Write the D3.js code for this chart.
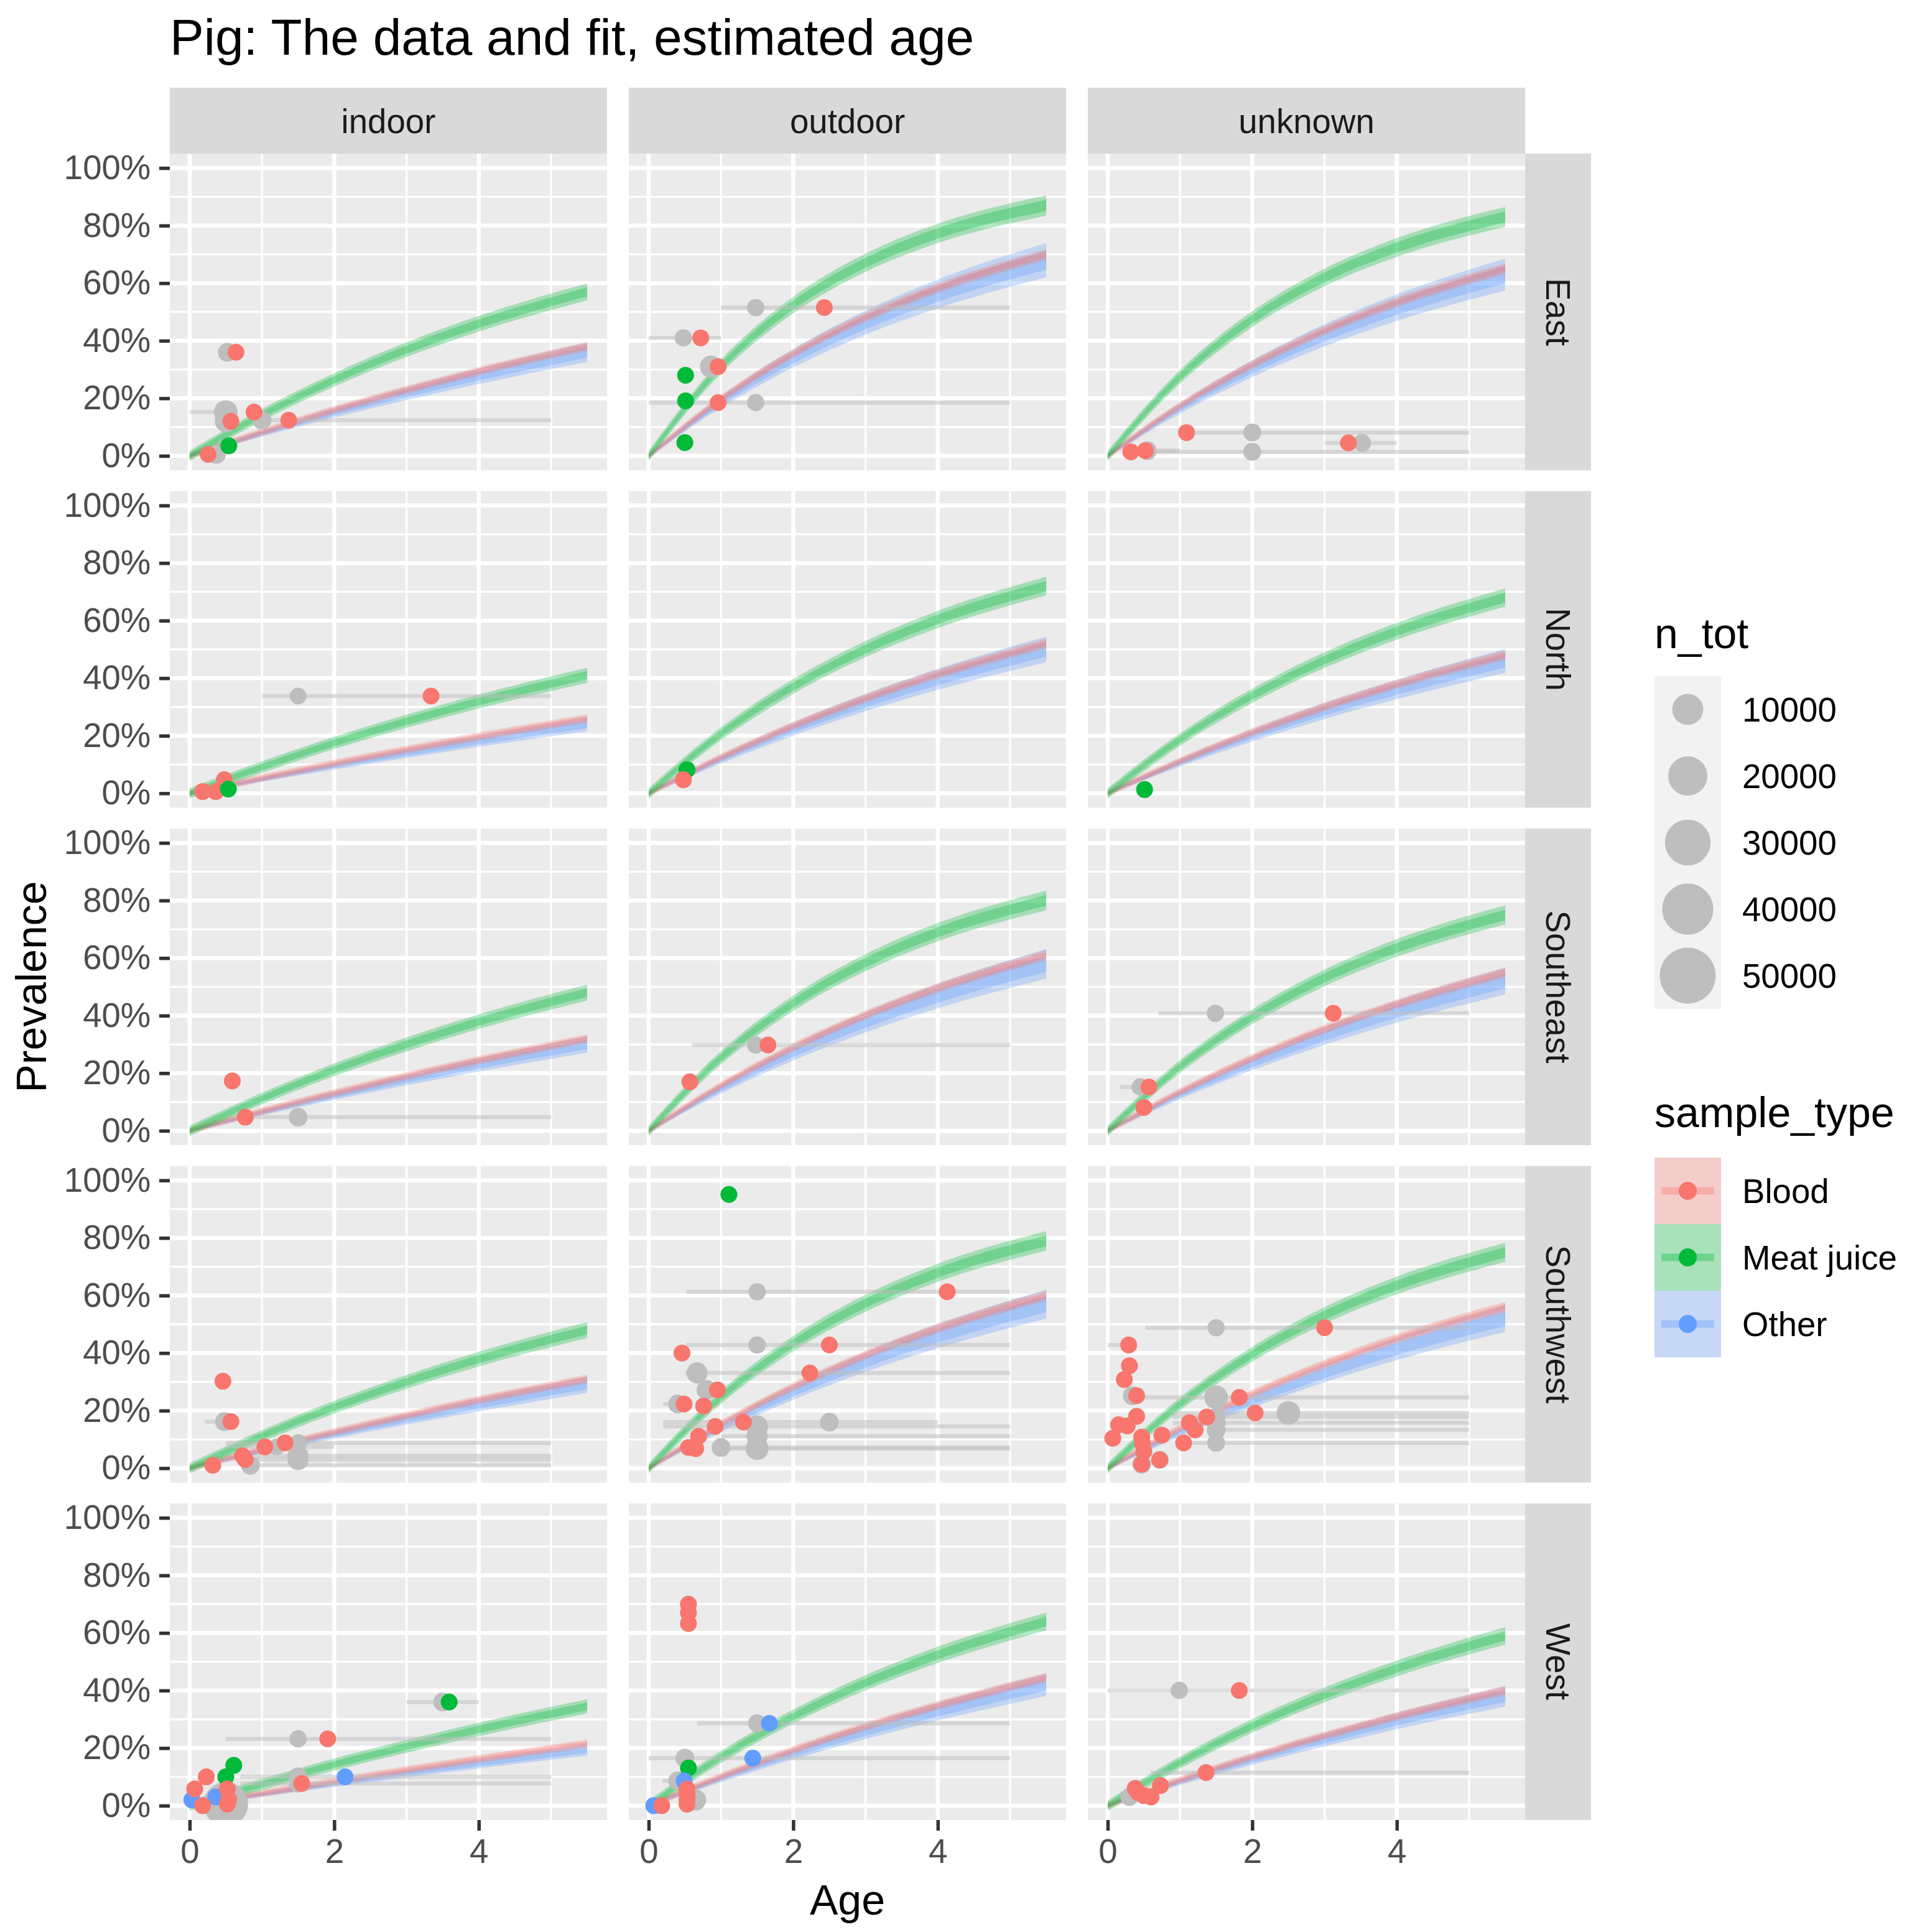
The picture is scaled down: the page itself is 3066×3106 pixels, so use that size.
<!DOCTYPE html>
<html>
<head>
<meta charset="utf-8">
<script src="https://cdn.jsdelivr.net/npm/d3@7"></script>
<style>
  body { margin: 0; background: #fff; }
  text { font-family: "Liberation Sans", Arial, Helvetica, sans-serif; }
</style>
</head>
<body>
<svg id="chart"></svg>
<script>
// ---- data ----
const regions = ["East", "North", "Southeast", "Southwest", "West"];
const housing = ["indoor", "outdoor", "unknown"];
const sampleTypes = ["Blood", "Meat juice", "Other"];
const yTicks = [0, 0.2, 0.4, 0.6, 0.8, 1];
const xTicks = [0, 2, 4];
const sizeBreaks = [10000, 20000, 30000, 40000, 50000];

// fitted prevalence at these ages, one row per panel (regions x housing, row order)
const fitAges = [0, 1, 2, 3, 4, 5.5];
const fitBlood = [
  [0, .083, .160, .229, .294, .38],
  [0, .197, .355, .482, .583, .70],
  [0, .174, .317, .436, .534, .65],
  [0, .053, .104, .152, .197, .26],
  [0, .125, .234, .330, .414, .52],
  [0, .112, .212, .300, .379, .48],
  [0, .068, .131, .190, .245, .32],
  [0, .157, .290, .402, .496, .61],
  [0, .135, .252, .353, .440, .55],
  [0, .065, .126, .183, .237, .31],
  [0, .153, .283, .393, .486, .60],
  [0, .139, .258, .361, .450, .56],
  [0, .043, .084, .124, .162, .215],
  [0, .101, .193, .275, .348, .445],
  [0, .089, .170, .243, .310, .40]
];
const fitMeatJuice = [
  [0, .142, .264, .369, .459, .57],
  [0, .310, .524, .671, .773, .87],
  [0, .275, .475, .620, .724, .83],
  [0, .091, .175, .250, .319, .41],
  [0, .207, .371, .501, .604, .72],
  [0, .187, .339, .463, .563, .68],
  [0, .112, .212, .300, .379, .48],
  [0, .254, .443, .584, .690, .80],
  [0, .223, .396, .531, .635, .75],
  [0, .112, .212, .300, .379, .48],
  [0, .247, .433, .573, .679, .79],
  [0, .223, .396, .531, .635, .75],
  [0, .074, .143, .206, .265, .345],
  [0, .169, .310, .427, .524, .64],
  [0, .150, .277, .385, .477, .59]
];
const fitOther = [
  [0, .078, .150, .216, .277, .36],
  [0, .187, .339, .463, .563, .68],
  [0, .165, .303, .419, .515, .63],
  [0, .049, .095, .139, .181, .24],
  [0, .118, .223, .315, .396, .50],
  [0, .106, .201, .286, .361, .46],
  [0, .063, .122, .177, .229, .30],
  [0, .146, .271, .377, .468, .58],
  [0, .125, .234, .330, .414, .52],
  [0, .060, .117, .170, .220, .29],
  [0, .142, .264, .369, .459, .57],
  [0, .125, .234, .330, .414, .52],
  [0, .039, .076, .112, .146, .195],
  [0, .094, .180, .257, .327, .42],
  [0, .083, .160, .229, .294, .38]
];
// half width of the outer fit band: base + slope * prevalence
const bandBase = [0.012, 0.018, 0.005];
const bandSlope = [0.010, 0.020, 0.080];

// observations: region, housing, sample type, age (grey), age min, age max, estimated age, prevalence, n_tot
const observations = [
  ["East","indoor","Blood", .52,.52,.52, .64,.36, 1500],
  ["East","indoor","Blood", .50,0,.5, .89,.152, 4000],
  ["East","indoor","Blood", .50,.5,.5, .57,.12, 3000],
  ["East","indoor","Blood", 1.0,1.0,5.0, 1.37,.124, 1500],
  ["East","indoor","Meat juice", .54,.54,.54, .54,.035, 1000],
  ["East","indoor","Blood", .37,.37,.37, .255,.005, 1500],

  ["East","outdoor","Blood", 1.48,1,5, 2.43,.515, 1000],
  ["East","outdoor","Blood", .48,0,1, .72,.41, 1000],
  ["East","outdoor","Blood", .86,.86,.86, .96,.31, 3000],
  ["East","outdoor","Meat juice", .51,.51,.51, .51,.28, 800],
  ["East","outdoor","Meat juice", .51,.51,.51, .51,.191, 800],
  ["East","outdoor","Blood", 1.48,0,5, .96,.185, 1000],
  ["East","outdoor","Meat juice", .50,.50,.50, .50,.046, 800],

  ["East","unknown","Blood", .55,.5,1, .52,.018, 1500],
  ["East","unknown","Blood", 2.0,1,5, 1.09,.081, 1200],
  ["East","unknown","Blood", 2.0,.5,5, .32,.014, 1200],
  ["East","unknown","Blood", 3.52,3,4, 3.33,.045, 1200],

  ["North","indoor","Blood", 1.5,1,5, 3.34,.338, 800],
  ["North","indoor","Blood", .18,.18,.18, .18,.006, 800],
  ["North","indoor","Blood", .36,.36,.36, .36,.006, 800],
  ["North","indoor","Blood", .48,.48,.48, .48,.047, 800],
  ["North","indoor","Meat juice", .535,.535,.535, .535,.015, 800],

  ["North","outdoor","Meat juice", .53,.53,.53, .53,.082, 800],
  ["North","outdoor","Blood", .48,.48,.48, .48,.047, 800],

  ["North","unknown","Meat juice", .51,.51,.51, .51,.013, 800],

  ["Southeast","indoor","Blood", .59,.59,.59, .59,.173, 800],
  ["Southeast","indoor","Blood", 1.5,.8,5, .77,.047, 1500],

  ["Southeast","outdoor","Blood", .57,.57,.57, .57,.17, 800],
  ["Southeast","outdoor","Blood", 1.48,.6,5, 1.65,.298, 1000],

  ["Southeast","unknown","Blood", 1.49,.7,5, 3.12,.408, 1000],
  ["Southeast","unknown","Blood", .45,.17,.45, .57,.152, 1000],
  ["Southeast","unknown","Blood", .50,.50,.50, .50,.081, 800],

  ["Southwest","indoor","Blood", .46,.46,.46, .46,.302, 800],
  ["Southwest","indoor","Blood", .48,.21,.48, .57,.162, 1500],
  ["Southwest","indoor","Blood", 1.5,.5,5, 1.32,.088, 1000],
  ["Southwest","indoor","Blood", 1.2,.5,2, 1.04,.074, 800],
  ["Southwest","indoor","Blood", 1.5,.9,5, .73,.043, 2500],
  ["Southwest","indoor","Blood", 1.5,.9,5, .77,.030, 2500],
  ["Southwest","indoor","Blood", .84,.84,5, .32,.010, 1500],

  ["Southwest","outdoor","Meat juice", 1.11,1.11,1.11, 1.11,.951, 800],
  ["Southwest","outdoor","Blood", 1.5,.52,5, 4.13,.613, 1000],
  ["Southwest","outdoor","Blood", 1.5,.52,5, 2.5,.428, 1000],
  ["Southwest","outdoor","Blood", .46,.46,.46, .46,.40, 800],
  ["Southwest","outdoor","Blood", .67,.5,5, 2.23,.331, 2500],
  ["Southwest","outdoor","Blood", .8,.8,.8, .95,.272, 2000],
  ["Southwest","outdoor","Blood", .4,.2,.4, .49,.223, 1500],
  ["Southwest","outdoor","Blood", .76,.76,.76, .76,.216, 800],
  ["Southwest","outdoor","Blood", 1.5,.2,5, .92,.145, 3000],
  ["Southwest","outdoor","Blood", 2.5,.2,4, 1.31,.16, 1500],
  ["Southwest","outdoor","Blood", 1.5,1,5, .69,.111, 2500],
  ["Southwest","outdoor","Blood", 1.0,1,5, .55,.072, 1500],
  ["Southwest","outdoor","Blood", 1.5,1,5, .65,.068, 3500],

  ["Southwest","unknown","Blood", 1.5,.52,5, 3.0,.488, 1000],
  ["Southwest","unknown","Blood", .29,0,.29, .29,.428, 800],
  ["Southwest","unknown","Blood", .30,.30,.30, .30,.356, 800],
  ["Southwest","unknown","Blood", .23,.23,.23, .23,.308, 800],
  ["Southwest","unknown","Blood", .34,.34,.34, .40,.252, 1500],
  ["Southwest","unknown","Blood", 1.5,.5,5, 1.82,.246, 4000],
  ["Southwest","unknown","Blood", 2.5,.9,5, 2.04,.192, 4000],
  ["Southwest","unknown","Blood", .40,.40,.40, .40,.18, 800],
  ["Southwest","unknown","Blood", .15,.15,.15, .15,.151, 800],
  ["Southwest","unknown","Blood", .27,.27,.27, .27,.147, 800],
  ["Southwest","unknown","Blood", .07,.07,.07, .07,.104, 800],
  ["Southwest","unknown","Blood", .47,.47,.47, .47,.108, 800],
  ["Southwest","unknown","Blood", .48,.48,.48, .48,.086, 800],
  ["Southwest","unknown","Blood", .50,.50,.50, .50,.058, 800],
  ["Southwest","unknown","Blood", .47,.47,.47, .47,.014, 1500],
  ["Southwest","unknown","Blood", .75,.75,.75, .75,.115, 800],
  ["Southwest","unknown","Blood", 1.5,.9,5, 1.13,.158, 1500],
  ["Southwest","unknown","Blood", 1.5,1.5,5, 1.21,.133, 1500],
  ["Southwest","unknown","Blood", 1.5,.9,5, 1.37,.178, 1200],
  ["Southwest","unknown","Blood", 1.5,1.0,5, 1.05,.088, 1200],
  ["Southwest","unknown","Blood", .72,.72,.72, .72,.029, 1200],

  ["West","indoor","Meat juice", 3.5,3,4, 3.59,.36, 1500],
  ["West","indoor","Blood", 1.5,.5,5, 1.91,.232, 1000],
  ["West","indoor","Meat juice", .61,.61,.61, .61,.14, 800],
  ["West","indoor","Meat juice", .50,.50,.50, .50,.10, 800],
  ["West","indoor","Blood", 1.5,.7,5, 1.55,.077, 1200],
  ["West","indoor","Other", 1.5,.7,5, 2.15,.10, 1500],
  ["West","indoor","Other", .03,.03,.03, .03,.02, 800],
  ["West","indoor","Other", .36,.36,.36, .36,.03, 800],
  ["West","indoor","Blood", .23,.23,.23, .23,.10, 800],
  ["West","indoor","Blood", .07,.07,.07, .07,.058, 800],
  ["West","indoor","Blood", .18,.18,.18, .18,.0, 800],
  ["West","indoor","Blood", .52,.52,.52, .52,.058, 800],
  ["West","indoor","Blood", .54,.54,.54, .54,.022, 800],
  ["West","indoor","Blood", .50,.50,.50, .52,.005, 28000],

  ["West","outdoor","Blood", .55,.55,.55, .55,.70, 800],
  ["West","outdoor","Blood", .55,.55,.55, .55,.67, 800],
  ["West","outdoor","Blood", .55,.55,.55, .55,.633, 800],
  ["West","outdoor","Other", 1.5,.67,5, 1.67,.286, 1200],
  ["West","outdoor","Other", .5,0,5, 1.44,.165, 1500],
  ["West","outdoor","Meat juice", .55,.55,.55, .55,.131, 800],
  ["West","outdoor","Other", .4,.19,.5, .49,.086, 1500],
  ["West","outdoor","Blood", .53,.53,.53, .53,.058, 800],
  ["West","outdoor","Blood", .53,.53,.53, .53,.04, 800],
  ["West","outdoor","Blood", .65,.65,.65, .53,.02, 2500],
  ["West","outdoor","Blood", .53,.53,.53, .53,.005, 800],
  ["West","outdoor","Other", .07,.07,.07, .07,.0, 800],
  ["West","outdoor","Blood", .18,.18,.18, .18,.0, 800],

  ["West","unknown","Blood", .99,0,5, 1.82,.40, 1000],
  ["West","unknown","Blood", 1.36,.6,5, 1.36,.115, 800],
  ["West","unknown","Blood", .73,.73,.73, .73,.07, 800],
  ["West","unknown","Blood", .42,.42,.42, .42,.045, 800],
  ["West","unknown","Blood", .50,.50,.50, .50,.035, 800],
  ["West","unknown","Blood", .30,.30,.30, .60,.03, 1200],
  ["West","unknown","Blood", .38,.38,.38, .38,.06, 800]
];

// ---- layout & style ----
const W = 3066, H = 3106;
const panelW = 703, panelH = 509;
const colX = [273, 1011, 1749];
const rowY = [247, 789.5, 1332, 1874.5, 2417];
const stripSize = 106;
const colors = ["#F8766D", "#00BA38", "#619CFF"];
const fits = [fitBlood, fitMeatJuice, fitOther];
const bandOrder = [2, 0, 1]; // blue under red, green last
const textSmall = 54.6, textMid = 68, textTitle = 82;

const svg = d3.select("#chart").attr("width", W).attr("height", H)
  .attr("viewBox", `0 0 ${W} ${H}`);
svg.append("rect").attr("width", W).attr("height", H).attr("fill", "#fff");

const defs = svg.append("defs");
defs.append("clipPath").attr("id", "panelClip")
  .append("rect").attr("width", panelW).attr("height", panelH);

const x = d3.scaleLinear().domain([-0.275, 5.775]).range([0, panelW]);
const y = d3.scaleLinear().domain([-0.05, 1.05]).range([panelH, 0]);
const r = d3.scaleSqrt().domain([0, 74000]).range([8.8, 52.8]);
const pointR = 13.5;

const areaFor = (si, k) => d3.area()
  .x(d => x(d[0]))
  .y0(d => y(d[1] - k * (bandBase[si] + bandSlope[si] * d[1])))
  .y1(d => y(d[1] + k * (bandBase[si] + bandSlope[si] * d[1])))
  .curve(d3.curveMonotoneX);

regions.forEach((reg, ri) => {
  housing.forEach((hs, ci) => {
    const pi = ri * housing.length + ci;
    const g = svg.append("g").attr("transform", `translate(${colX[ci]},${rowY[ri]})`);
    g.append("rect").attr("width", panelW).attr("height", panelH).attr("fill", "#EBEBEB");

    const grid = g.append("g").attr("stroke", "#fff");
    [1, 3, 5].forEach(v => grid.append("line").attr("x1", x(v)).attr("x2", x(v))
      .attr("y1", 0).attr("y2", panelH).attr("stroke-width", 3.3));
    [0.1, 0.3, 0.5, 0.7, 0.9].forEach(v => grid.append("line").attr("y1", y(v)).attr("y2", y(v))
      .attr("x1", 0).attr("x2", panelW).attr("stroke-width", 3.3));
    xTicks.forEach(v => grid.append("line").attr("x1", x(v)).attr("x2", x(v))
      .attr("y1", 0).attr("y2", panelH).attr("stroke-width", 6.6));
    yTicks.forEach(v => grid.append("line").attr("y1", y(v)).attr("y2", y(v))
      .attr("x1", 0).attr("x2", panelW).attr("stroke-width", 6.6));

    const plot = g.append("g").attr("clip-path", "url(#panelClip)");

    // fit bands: wide faint band plus narrower core
    bandOrder.forEach(si => {
      const pts = fitAges.map((a, k) => [a, fits[si][pi][k]]);
      plot.append("path").datum(pts).attr("d", areaFor(si, 1))
        .attr("fill", colors[si]).attr("fill-opacity", 0.3);
      plot.append("path").datum(pts).attr("d", areaFor(si, 0.55))
        .attr("fill", colors[si]).attr("fill-opacity", 0.3);
    });

    const obs = observations.filter(o => o[0] === reg && o[1] === hs);

    plot.selectAll("line.range").data(obs.filter(o => o[5] > o[4])).enter()
      .append("line").attr("class", "range")
      .attr("x1", o => x(o[4])).attr("x2", o => x(o[5]))
      .attr("y1", o => y(o[7])).attr("y2", o => y(o[7]))
      .attr("stroke", "#BEBEBE").attr("stroke-opacity", 0.5).attr("stroke-width", 6.5);

    plot.selectAll("circle.grey").data(obs).enter()
      .append("circle").attr("class", "grey")
      .attr("cx", o => x(o[3])).attr("cy", o => y(o[7])).attr("r", o => r(o[8]))
      .attr("fill", "#BEBEBE");

    plot.selectAll("circle.est").data(obs).enter()
      .append("circle").attr("class", "est")
      .attr("cx", o => x(o[6])).attr("cy", o => y(o[7])).attr("r", pointR)
      .attr("fill", o => colors[sampleTypes.indexOf(o[2])]);

    // axes
    if (ci === 0) {
      const ax = g.append("g").call(d3.axisLeft(y).tickValues(yTicks)
        .tickFormat(d3.format(".0%")).tickSize(17).tickPadding(13.6));
      ax.select(".domain").remove();
      ax.selectAll("line").attr("stroke", "#333").attr("stroke-width", 5.5);
      ax.selectAll("text").attr("font-size", textSmall).attr("fill", "#4D4D4D")
        .attr("font-family", "Liberation Sans, Arial, sans-serif");
    }
    if (ri === regions.length - 1) {
      const ax = g.append("g").attr("transform", `translate(0,${panelH})`)
        .call(d3.axisBottom(x).tickValues(xTicks).tickFormat(d3.format("d"))
          .tickSize(17).tickPadding(13.6));
      ax.select(".domain").remove();
      ax.selectAll("line").attr("stroke", "#333").attr("stroke-width", 5.5);
      ax.selectAll("text").attr("font-size", textSmall).attr("fill", "#4D4D4D")
        .attr("font-family", "Liberation Sans, Arial, sans-serif");
    }
  });
});

// strips
housing.forEach((hs, ci) => {
  svg.append("rect").attr("x", colX[ci]).attr("y", rowY[0] - stripSize)
    .attr("width", panelW).attr("height", stripSize).attr("fill", "#D9D9D9");
  svg.append("text").attr("x", colX[ci] + panelW / 2).attr("y", rowY[0] - stripSize / 2 + 19.5)
    .attr("text-anchor", "middle").attr("font-size", textSmall).attr("fill", "#1A1A1A").text(hs);
});
const stripX = colX[2] + panelW;
regions.forEach((reg, ri) => {
  svg.append("rect").attr("x", stripX).attr("y", rowY[ri])
    .attr("width", stripSize).attr("height", panelH).attr("fill", "#D9D9D9");
  const cx = stripX + stripSize / 2, cy = rowY[ri] + panelH / 2;
  svg.append("text").attr("transform", `translate(${cx - 19.5},${cy}) rotate(90)`)
    .attr("text-anchor", "middle").attr("font-size", textSmall).attr("fill", "#1A1A1A").text(reg);
});

// titles
svg.append("text").attr("x", 273).attr("y", 88).attr("font-size", textTitle)
  .attr("fill", "#000").text("Pig: The data and fit, estimated age");
svg.append("text").attr("x", (colX[0] + colX[2] + panelW) / 2).attr("y", 3078)
  .attr("text-anchor", "middle").attr("font-size", textMid).attr("fill", "#000").text("Age");
svg.append("text")
  .attr("transform", `translate(74,${(rowY[0] + rowY[4] + panelH) / 2}) rotate(-90)`)
  .attr("text-anchor", "middle").attr("font-size", textMid).attr("fill", "#000").text("Prevalence");

// legends
const legX = 2660, keyW = 107, labelX = legX + keyW + 34;
const sizeLeg = svg.append("g");
sizeLeg.append("text").attr("x", legX).attr("y", 1042).attr("font-size", textMid).text("n_tot");
sizeBreaks.forEach((v, k) => {
  const top = 1087 + k * keyW;
  sizeLeg.append("rect").attr("x", legX).attr("y", top).attr("width", keyW).attr("height", keyW)
    .attr("fill", "#F2F2F2");
  sizeLeg.append("circle").attr("cx", legX + keyW / 2).attr("cy", top + keyW / 2).attr("r", r(v))
    .attr("fill", "#BEBEBE");
  sizeLeg.append("text").attr("x", labelX).attr("y", top + keyW / 2 + 19.5)
    .attr("font-size", textSmall).text(v);
});

const typeLeg = svg.append("g");
typeLeg.append("text").attr("x", legX).attr("y", 1812).attr("font-size", textMid).text("sample_type");
sampleTypes.forEach((st, k) => {
  const top = 1861 + k * keyW;
  typeLeg.append("rect").attr("x", legX).attr("y", top).attr("width", keyW).attr("height", keyW)
    .attr("fill", "#F2F2F2");
  typeLeg.append("rect").attr("x", legX).attr("y", top).attr("width", keyW).attr("height", keyW)
    .attr("fill", colors[k]).attr("fill-opacity", 0.3);
  typeLeg.append("line").attr("x1", legX + 11).attr("x2", legX + keyW - 11)
    .attr("y1", top + keyW / 2).attr("y2", top + keyW / 2)
    .attr("stroke", colors[k]).attr("stroke-opacity", 0.35).attr("stroke-width", 12);
  typeLeg.append("circle").attr("cx", legX + keyW / 2).attr("cy", top + keyW / 2).attr("r", pointR + 1)
    .attr("fill", colors[k]);
  typeLeg.append("text").attr("x", labelX).attr("y", top + keyW / 2 + 19.5)
    .attr("font-size", textSmall).text(st);
});
</script>
</body>
</html>
